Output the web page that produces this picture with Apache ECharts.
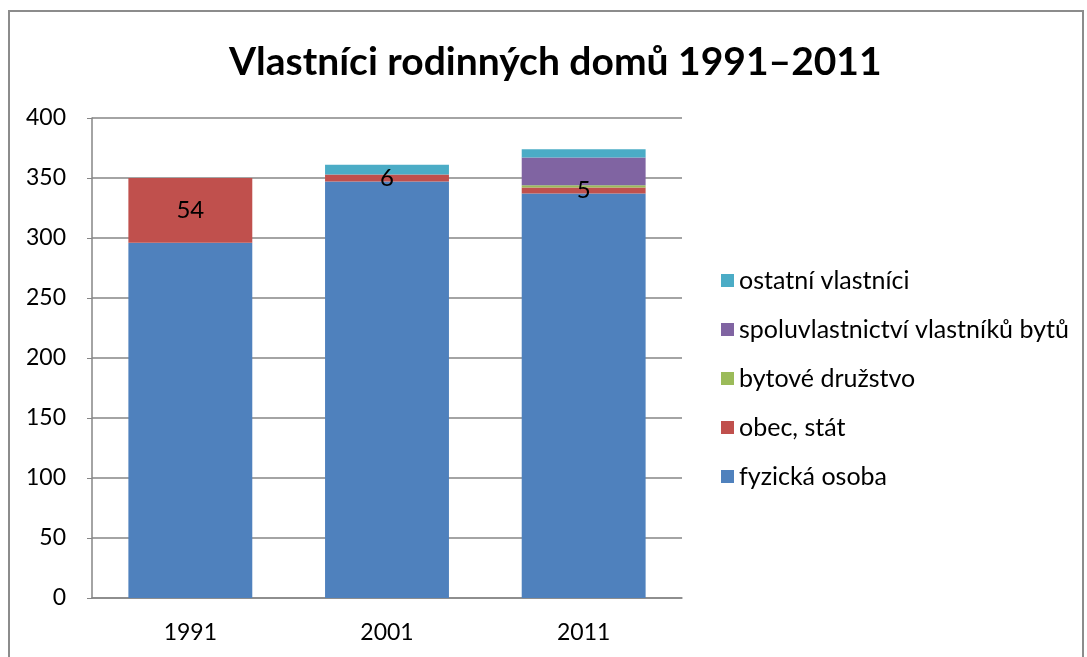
<!DOCTYPE html>
<html>
<head>
<meta charset="utf-8">
<script src="https://cdn.jsdelivr.net/npm/echarts@6/dist/echarts.min.js"></script>
<style>
    html, body { margin: 0; padding: 0; background: #fff; }
    #chart { width: 1087px; height: 657px; }
</style>
</head>
<body>
<div id="chart"></div>
<script>
var years = ['1991', '2001', '2011'];
var fyzicka = [296, 347, 337];
var obec = [54, 6, 5];
var druzstvo = [0, 0, 2];
var spoluvl = [0, 0, 23];
var ostatni = [0, 8, 7];
var yTicks = [0, 50, 100, 150, 200, 250, 300, 350, 400];

var chart = echarts.init(document.getElementById('chart'));

function barSeries(name, data, color, withLabel) {
    return {
        name: name,
        type: 'bar',
        stack: 'total',
        data: data,
        barWidth: '63%',
        itemStyle: { color: color },
        label: {
            show: withLabel,
            position: 'inside',
            color: '#000',
            fontSize: 24,
            fontFamily: 'Lato',
            formatter: function (p) { return p.value; }
        }
    };
}

chart.setOption({
    backgroundColor: '#fff',
    animation: false,
    title: {
        text: 'Vlastníci rodinných domů 1991–2011',
        left: 224,
        top: 38,
        textStyle: { fontFamily: 'Lato', fontWeight: 'bold', fontSize: 39, color: '#000' }
    },
    graphic: [{
        type: 'rect',
        shape: { x: 9, y: 11, width: 1074, height: 660 },
        style: { fill: 'none', stroke: '#8c8c8c', lineWidth: 2 }
    }],
    legend: {
        orient: 'vertical',
        left: 716,
        top: 263,
        itemGap: 24,
        itemWidth: 13,
        itemHeight: 13,
        icon: 'rect',
        textStyle: { fontFamily: 'Lato', fontSize: 25, color: '#000' },
        data: ['ostatní vlastníci', 'spoluvlastnictví vlastníků bytů', 'bytové družstvo', 'obec, stát', 'fyzická osoba']
    },
    grid: { left: 92, top: 118, width: 590, height: 480 },
    xAxis: {
        type: 'category',
        data: years,
        axisLine: { lineStyle: { color: '#868686', width: 1.5 } },
        axisTick: { show: false },
        axisLabel: { fontFamily: 'Lato', fontSize: 23, color: '#000', margin: 23 }
    },
    yAxis: {
        type: 'value',
        min: yTicks[0],
        max: yTicks[yTicks.length - 1],
        interval: 50,
        axisLine: { show: true, lineStyle: { color: '#868686', width: 1.5 } },
        axisTick: { show: true, length: 5, lineStyle: { color: '#868686' } },
        splitLine: { lineStyle: { color: '#868686', width: 1.5 } },
        axisLabel: { fontFamily: 'Lato', fontSize: 23, color: '#000', margin: 26 }
    },
    series: [
        barSeries('fyzická osoba', fyzicka, '#4F81BD', false),
        barSeries('obec, stát', obec, '#C0504D', true),
        barSeries('bytové družstvo', druzstvo, '#9BBB59', false),
        barSeries('spoluvlastnictví vlastníků bytů', spoluvl, '#8064A2', false),
        barSeries('ostatní vlastníci', ostatni, '#4BACC6', false)
    ]
});
</script>
</body>
</html>
